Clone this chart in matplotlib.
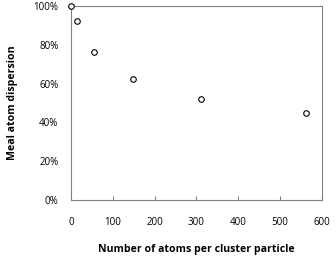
import matplotlib.pyplot as plt
from matplotlib.ticker import PercentFormatter

atoms = [0, 14, 55, 148, 311, 562]
dispersion = [100, 92, 76.3, 62.4, 52, 44.8]

plt.rcParams["font.family"] = ["Open Sans", "DejaVu Sans"]

fig = plt.figure(figsize=(3.36, 2.58), dpi=100)
ax = fig.add_axes([0.211, 0.225, 0.747, 0.752])
ax.plot(atoms, dispersion, linestyle="none", marker="o", markersize=4,
        markerfacecolor="white", markeredgecolor="black", markeredgewidth=0.8,
        clip_on=False, zorder=3)

ax.set_xlim(0, 600)
ax.set_ylim(0, 100)
ax.set_xticks(range(0, 601, 100))
ax.set_yticks(range(0, 101, 20))
ax.yaxis.set_major_formatter(PercentFormatter(decimals=0))
ax.tick_params(axis="x", direction="in", length=3, pad=12, labelsize=7, color="#808080")
ax.tick_params(axis="y", length=0, pad=9, labelsize=7)
for s in ax.spines.values():
    s.set_color("#808080")
    s.set_linewidth(0.8)

ax.set_xlabel("Number of atoms per cluster particle", fontsize=7.6, fontweight="bold", labelpad=12)
ax.set_ylabel("Meal atom dispersion", fontsize=7.6, fontweight="bold", labelpad=11)

fig.savefig("out.png", dpi=100)
